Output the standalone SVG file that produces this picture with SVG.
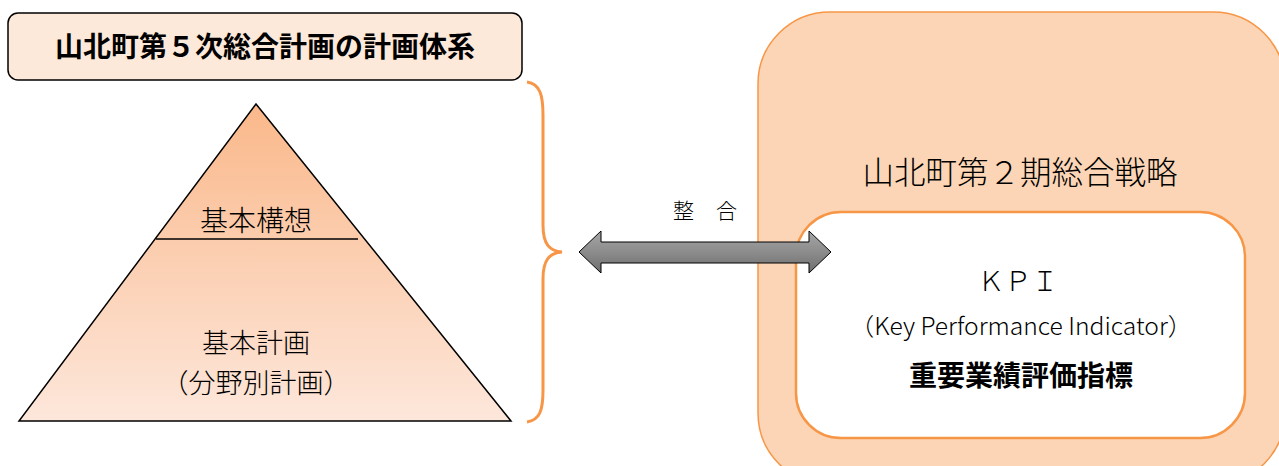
<svg xmlns="http://www.w3.org/2000/svg" width="1279" height="466" viewBox="0 0 1279 466">
<style>
text{font-family:"Noto Sans CJK JP","Noto Sans",sans-serif;fill:#000;text-anchor:middle}
.title{font-size:28px;font-weight:bold}
.tri{font-size:28px;font-weight:300}
.tri2{font-size:27px;font-weight:300}
.orange{fill:none;stroke:#f79646;stroke-width:3}
</style>
<defs>
<linearGradient id="triG" x1="0" y1="0" x2="0" y2="1">
<stop offset="0" stop-color="#fab88a"/>
<stop offset="1" stop-color="#fde7db"/>
</linearGradient>
<linearGradient id="arrG" x1="0" y1="0" x2="0" y2="1">
<stop offset="0" stop-color="#a6a6a6"/>
<stop offset="0.5" stop-color="#8c8c8c"/>
<stop offset="1" stop-color="#6e6e6e"/>
</linearGradient>
</defs>
<g id="strategy">
<rect x="758" y="12" width="527" height="473" rx="72" fill="#fbd5b5" stroke="#f79646" stroke-width="1.5"/>
<text x="1020" y="184" style="font-size:31.5px;font-weight:300">山北町第２期総合戦略</text>
</g>
<g id="kpi">
<rect x="796" y="212" width="449" height="226" rx="45" fill="#fff" stroke="#f79646" stroke-width="2.5"/>
<text x="1018" y="291" style="font-size:27px;font-weight:300">ＫＰＩ</text>
<text x="1021" y="335" style="font-size:24px;font-weight:300" textLength="343" lengthAdjust="spacingAndGlyphs">（Key Performance Indicator）</text>
<text x="1021" y="386" style="font-size:28px;font-weight:bold">重要業績評価指標</text>
</g>
<g id="title">
<rect x="8" y="13" width="514" height="67" rx="10" fill="#fde9d9" stroke="#000" stroke-width="1.5"/>
<text x="265" y="57" class="title">山北町第５次総合計画の計画体系</text>
</g>
<g id="pyramid">
<polygon points="256,104 511,421 19,421" fill="url(#triG)" stroke="#000" stroke-width="1.5"/>
<line x1="156" y1="239" x2="358" y2="239" stroke="#000" stroke-width="1.5"/>
<text x="256" y="231" class="tri">基本構想</text>
<text x="256" y="353" class="tri2">基本計画</text>
<text x="256" y="393" class="tri2">（分野別計画）</text>
</g>
<g id="connectors">
<path class="orange" d="M527,82 C540,84 543,95 543,115 L543,225 C543,245 550,251 562,252 C550,253 543,259 543,279 L543,390 C543,410 540,420 527,422"/>
<polygon points="579,252 601,231 601,242 809,242 809,231 831,252 809,273 809,263 601,263 601,273" fill="url(#arrG)" stroke="#000" stroke-width="1"/>
<text x="705" y="218" style="font-size:21px;font-weight:300;letter-spacing:22px" dx="11">整合</text>
</g>
</svg>
